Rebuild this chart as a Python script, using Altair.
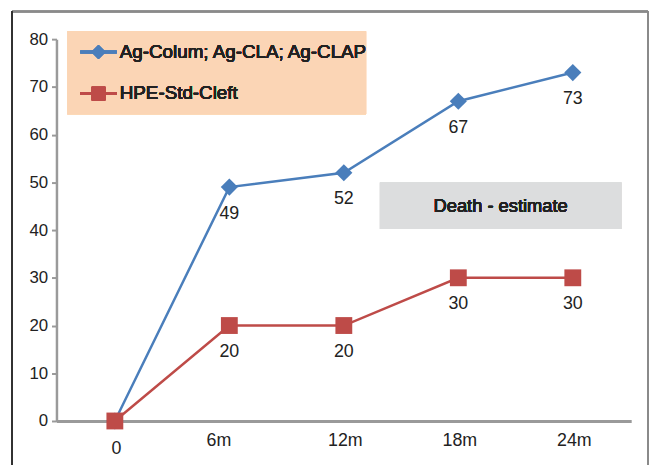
import altair as alt
import pandas as pd

categories = ["0", "6m", "12m", "18m", "24m"]
series_names = ["Ag-Colum; Ag-CLA; Ag-CLAP", "HPE-Std-Cleft"]
blue_values = [0, 49, 52, 67, 73]
red_values = [0, 20, 20, 30, 30]
colors = ["#4A7EBB", "#BE4B48"]
shapes = ["diamond", "square"]
note_text = "Death - estimate"

rows = []
for s, vals in zip(series_names, [blue_values, red_values]):
    for c, v in zip(categories, vals):
        rows.append({"cat": c, "val": v, "series": s})
df = pd.DataFrame(rows)

FONT = "Liberation Sans"
TXT = "#222222"
W, H = 581, 386

xenc = alt.X("cat:N", sort=categories, scale=alt.Scale(type="point", padding=0.51),
             axis=alt.Axis(title=None, labelAngle=0, ticks=False, domainColor="#9a9a9a",
                           domainWidth=3, labelFont=FONT, labelFontSize=18, labelFontWeight="normal",
                           labelColor=TXT,
                           labelPadding={"condition": {"test": "datum.value === '0'", "value": 19}, "value": 11},
                           labelOffset={"condition": {"test": "datum.value === '6m'", "value": -11}, "value": 1}))
yenc = alt.Y("val:Q", scale=alt.Scale(domain=[0, 80], nice=False),
             axis=alt.Axis(title=None, values=list(range(0, 81, 10)), grid=False, tickSize=5,
                           tickColor="#9a9a9a", tickWidth=2, domainColor="#9a9a9a", domainWidth=2.5,
                           labelFont=FONT, labelFontSize=17, labelFontWeight="normal",
                           labelColor=TXT, labelPadding=4))
cenc = alt.Color("series:N", scale=alt.Scale(domain=series_names, range=colors), legend=None)
senc = alt.Shape("series:N", scale=alt.Scale(domain=series_names, range=shapes), legend=None)

base = alt.Chart(df)

def series_layers(name, size):
    d = base.transform_filter(alt.datum.series == name)
    line = d.mark_line(strokeWidth=2.5).encode(x=xenc, y=yenc, color=cenc)
    pts = d.mark_point(filled=True, opacity=1, size=size).encode(x=xenc, y=yenc, color=cenc, shape=senc)
    return [line, pts]

layers = []
layers += series_layers(series_names[0], 300)
layers += series_layers(series_names[1], 290)

labels = base.transform_filter(alt.datum.val > 0).mark_text(
    font=FONT, fontSize=18, fontWeight="normal", color=TXT, baseline="middle", dy=27
).encode(x=xenc, y=yenc, text="val:Q")
layers.append(labels)

# Border around whole figure
border_top = alt.Chart(df).mark_rule(color="#8a8a8a", strokeWidth=1.5).encode(
    x=alt.value(-45), x2=alt.value(598), y=alt.value(-28), y2=alt.value(-28))
border_right = alt.Chart(df).mark_rule(color="#8a8a8a", strokeWidth=2).encode(
    x=alt.value(598), x2=alt.value(598), y=alt.value(-28), y2=alt.value(440))
border_left = alt.Chart(df).mark_rule(color="#333333", strokeWidth=1.2).encode(
    x=alt.value(-45), x2=alt.value(-45), y=alt.value(-28), y2=alt.value(440))

# Legend box
legend_bg = alt.Chart(df).mark_rect(color="#FBD5B5").encode(
    x=alt.value(11), x2=alt.value(313), y=alt.value(-8), y2=alt.value(76))
leg_layers = [legend_bg]
for i, (name, col, shp, sz) in enumerate(zip(series_names, colors, shapes, [200, 190])):
    yy = 13 + 42 * i
    leg_layers.append(alt.Chart(df).mark_rule(color=col, strokeWidth=2.5).encode(
        x=alt.value(24), x2=alt.value(61), y=alt.value(yy), y2=alt.value(yy)))
    leg_layers.append(alt.Chart(df).mark_point(filled=True, opacity=1, color=col, shape=shp, size=sz).encode(
        x=alt.value(42.5), y=alt.value(yy)))
    leg_layers.append(alt.Chart(df).mark_text(font=FONT, fontSize=19, fontWeight="normal", color=TXT,
                                              align="left", baseline="middle", text=name).encode(
        x=alt.value(64), y=alt.value(yy)))

# Note box
note_bg = alt.Chart(df).mark_rect(color="#DCDDDE").encode(
    x=alt.value(327), x2=alt.value(571), y=alt.value(145), y2=alt.value(192))
note_txt = alt.Chart(df).mark_text(font=FONT, fontSize=18.5, fontWeight="normal", color=TXT, align="center",
                                   baseline="middle", text=note_text).encode(
    x=alt.value(449), y=alt.value(168.5))

chart = alt.layer(
    border_top, border_right, border_left, *leg_layers, note_bg, note_txt, *layers
).properties(
    width=W, height=H,
    autosize=alt.AutoSizeParams(type="none"),
    padding={"left": 49, "top": 29, "right": 18, "bottom": 42},
    background="white",
).configure_view(stroke=None)

chart.save("out.html", embed_options={"renderer": "svg", "actions": False})
